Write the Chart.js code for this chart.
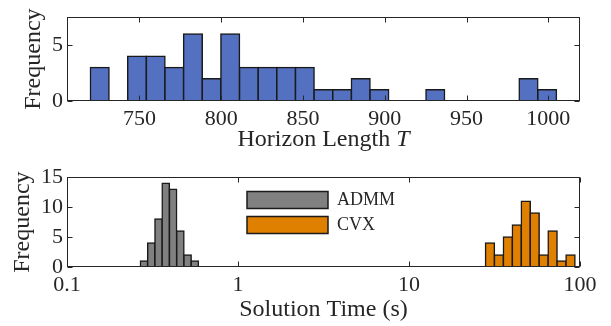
<!DOCTYPE html>
<html lang="en">
<head>
<meta charset="UTF-8">
<title>Horizon length and solution time histograms</title>
<script src="https://cdn.jsdelivr.net/npm/chart.js"></script>
<style>
    body {
        margin: 0;
        background: #fff;
    }

    #wrap {
        position: relative;
        width: 611px;
        height: 326px;
    }

    .panel {
        position: absolute;
        left: 0;
        width: 611px;
    }

    #top-panel { top: 0; height: 160px; }
    #bottom-panel { top: 160px; height: 166px; }
</style>
</head>
<body>
<div id="wrap">
    <div class="panel" id="top-panel"><canvas id="horizon-chart"></canvas></div>
    <div class="panel" id="bottom-panel"><canvas id="time-chart"></canvas></div>
</div>
<script>
// top histogram: horizon length T (bin centres, bins 11.4 wide)
const horizonBins = [725.7, 737.1, 748.5, 759.9, 771.3, 782.7, 794.1, 805.5, 816.9, 828.3,
                     839.7, 851.1, 862.5, 873.9, 885.3, 896.7, 908.1, 919.5, 930.9, 942.3,
                     953.7, 965.1, 976.5, 987.9, 999.3];
const horizonCounts = [3, 0, 4, 4, 3, 6, 2, 6, 3, 3,
                       3, 3, 1, 1, 2, 1, 0, 0, 1, 0,
                       0, 0, 0, 2, 1];
const horizonTicks = [750, 800, 850, 900, 950, 1000];
const horizonFreqTicks = [0, 5];

// bottom histogram: solution time in seconds (log spaced bin centres)
const admmBins = [0.282, 0.311, 0.343, 0.378, 0.417, 0.460, 0.507, 0.559];
const admmCounts = [1, 4, 8, 14, 13, 6, 2, 1];
const cvxBins = [29.74, 33.55, 37.85, 42.70, 48.17, 54.34, 61.30, 69.15, 78.01, 88.00];
const cvxCounts = [4, 2, 5, 7, 11, 9, 2, 6, 1, 2];
const timeTicks = [0.1, 1, 10, 100];
const timeFreqTicks = [0, 5, 10, 15];

const INK = '#262626';
const FONT = '"Liberation Serif", serif';

Chart.defaults.font.family = FONT;
Chart.defaults.color = INK;

function toPoints(xs, ys) {
    return xs.map((x, i) => ({ x: x, y: ys[i] }));
}

function fixedTicks(list) {
    return scale => { scale.ticks = list.map(v => ({ value: v })); };
}

// box round the plot area with inward tick marks on all four sides
const frame = {
    id: 'frame',
    afterDatasetsDraw(chart) {
        const { ctx, chartArea: a } = chart;
        const xs = chart.scales.x, ys = chart.scales.y;
        const L = Math.round(a.left) + 0.5, R = Math.round(a.right) - 0.5;
        const T = Math.round(a.top) + 0.5, B = Math.round(a.bottom) - 0.5;
        const len = 5;
        ctx.save();
        ctx.strokeStyle = INK;
        ctx.lineWidth = 1;
        ctx.beginPath();
        xs.ticks.forEach(t => {
            const p = Math.round(xs.getPixelForValue(t.value)) + 0.5;
            ctx.moveTo(p, B); ctx.lineTo(p, B - len);
            ctx.moveTo(p, T); ctx.lineTo(p, T + len);
        });
        ys.ticks.forEach(t => {
            const p = Math.round(ys.getPixelForValue(t.value)) + 0.5;
            ctx.moveTo(L, p); ctx.lineTo(L + len, p);
            ctx.moveTo(R, p); ctx.lineTo(R - len, p);
        });
        ctx.stroke();
        ctx.strokeRect(L, T, R - L, B - T);
        ctx.restore();
    }
};

// x title of the top plot, with an italic T
const horizonTitle = {
    id: 'horizonTitle',
    afterDraw(chart) {
        const { ctx, chartArea: a } = chart;
        const plain = 'Horizon Length ', sym = 'T';
        const y = chart.height - 20;
        ctx.save();
        ctx.fillStyle = INK;
        ctx.textBaseline = 'middle';
        ctx.textAlign = 'left';
        ctx.font = '24px ' + FONT;
        const w1 = ctx.measureText(plain).width;
        ctx.font = 'italic 24px ' + FONT;
        const w2 = ctx.measureText(sym).width;
        const x0 = (a.left + a.right) / 2 - (w1 + w2) / 2;
        ctx.font = '24px ' + FONT;
        ctx.fillText(plain, x0, y);
        ctx.font = 'italic 24px ' + FONT;
        ctx.fillText(sym, x0 + w1, y);
        ctx.restore();
    }
};

// move the legend block into the middle of the lower plot
const legendSpot = {
    id: 'legendSpot',
    beforeDraw(chart) {
        const lg = chart.legend;
        if (!lg) return;
        lg.left = 240;
        lg.top = 24;
    }
};

function freqAxis(list, max, titlePad) {
    return {
        type: 'linear',
        min: 0,
        max: max,
        bounds: 'data',
        afterBuildTicks: fixedTicks(list),
        afterFit: s => { s.width = 67; },
        grid: { display: false, drawTicks: false },
        border: { display: false },
        ticks: { font: { size: 22 }, padding: 4 },
        title: { display: true, text: 'Frequency', font: { size: 24 }, padding: { top: titlePad, bottom: 0 } }
    };
}

// edges centred on the bin boundaries, so neighbouring bars share one line
const barStyle = {
    borderColor: '#1a1a1a',
    borderWidth: 1.5,
    inflateAmount: c => (c.raw && c.raw.y === 0 ? 0 : 0.75),
    barPercentage: 1,
    categoryPercentage: 1,
    grouped: false
};

new Chart(document.getElementById('horizon-chart'), {
    type: 'bar',
    data: {
        datasets: [Object.assign({
            label: 'Horizon Length',
            data: toPoints(horizonBins, horizonCounts),
            backgroundColor: '#5470c0'
        }, barStyle)]
    },
    options: {
        responsive: true,
        maintainAspectRatio: false,
        animation: false,
        layout: { padding: { top: 9, right: 31, left: 0, bottom: 0 } },
        plugins: { legend: { display: false }, tooltip: { enabled: false } },
        scales: {
            x: {
                type: 'linear',
                offset: false,
                min: 705.7,
                max: 1019.4,
                bounds: 'data',
                afterBuildTicks: fixedTicks(horizonTicks),
                afterFit: s => { s.height = 59; },
                grid: { display: false, drawTicks: false },
                border: { display: false },
                ticks: { font: { size: 22 }, padding: 5, maxRotation: 0, autoSkip: false, callback: v => String(v) }
            },
            y: freqAxis(horizonFreqTicks, 7.5, 19)
        }
    },
    plugins: [frame, horizonTitle]
});

const logAxis = (shown) => ({
    type: 'logarithmic',
    display: shown,
    position: shown ? 'bottom' : 'top',
    offset: false,
    min: 0.1,
    max: 100,
    afterBuildTicks: fixedTicks(timeTicks),
    afterFit: s => { if (shown) s.height = 59; },
    grid: { display: false, drawTicks: false },
    border: { display: false },
    ticks: { font: { size: 22 }, padding: 5, maxRotation: 0, autoSkip: false, callback: v => String(v) },
    title: { display: shown, text: 'Solution Time (s)', font: { size: 24 }, padding: { top: 0, bottom: 2 } }
});

new Chart(document.getElementById('time-chart'), {
    type: 'bar',
    data: {
        datasets: [Object.assign({
            label: 'ADMM',
            data: toPoints(admmBins, admmCounts),
            xAxisID: 'x',
            backgroundColor: '#808080'
        }, barStyle), Object.assign({
            label: 'CVX',
            data: toPoints(cvxBins, cvxCounts),
            xAxisID: 'x2',
            backgroundColor: '#e08000'
        }, barStyle)]
    },
    options: {
        responsive: true,
        maintainAspectRatio: false,
        animation: false,
        layout: { padding: { top: 15, right: 31, left: 0, bottom: 0 } },
        plugins: {
            tooltip: { enabled: false },
            legend: {
                position: 'chartArea',
                align: 'start',
                labels: {
                    boxWidth: 81,
                    boxHeight: 17,
                    padding: 7,
                    color: INK,
                    font: { size: 18 }
                }
            }
        },
        scales: {
            x: logAxis(true),
            x2: logAxis(false),
            y: freqAxis(timeFreqTicks, 15, 8)
        }
    },
    plugins: [frame, legendSpot]
});
</script>
</body>
</html>
